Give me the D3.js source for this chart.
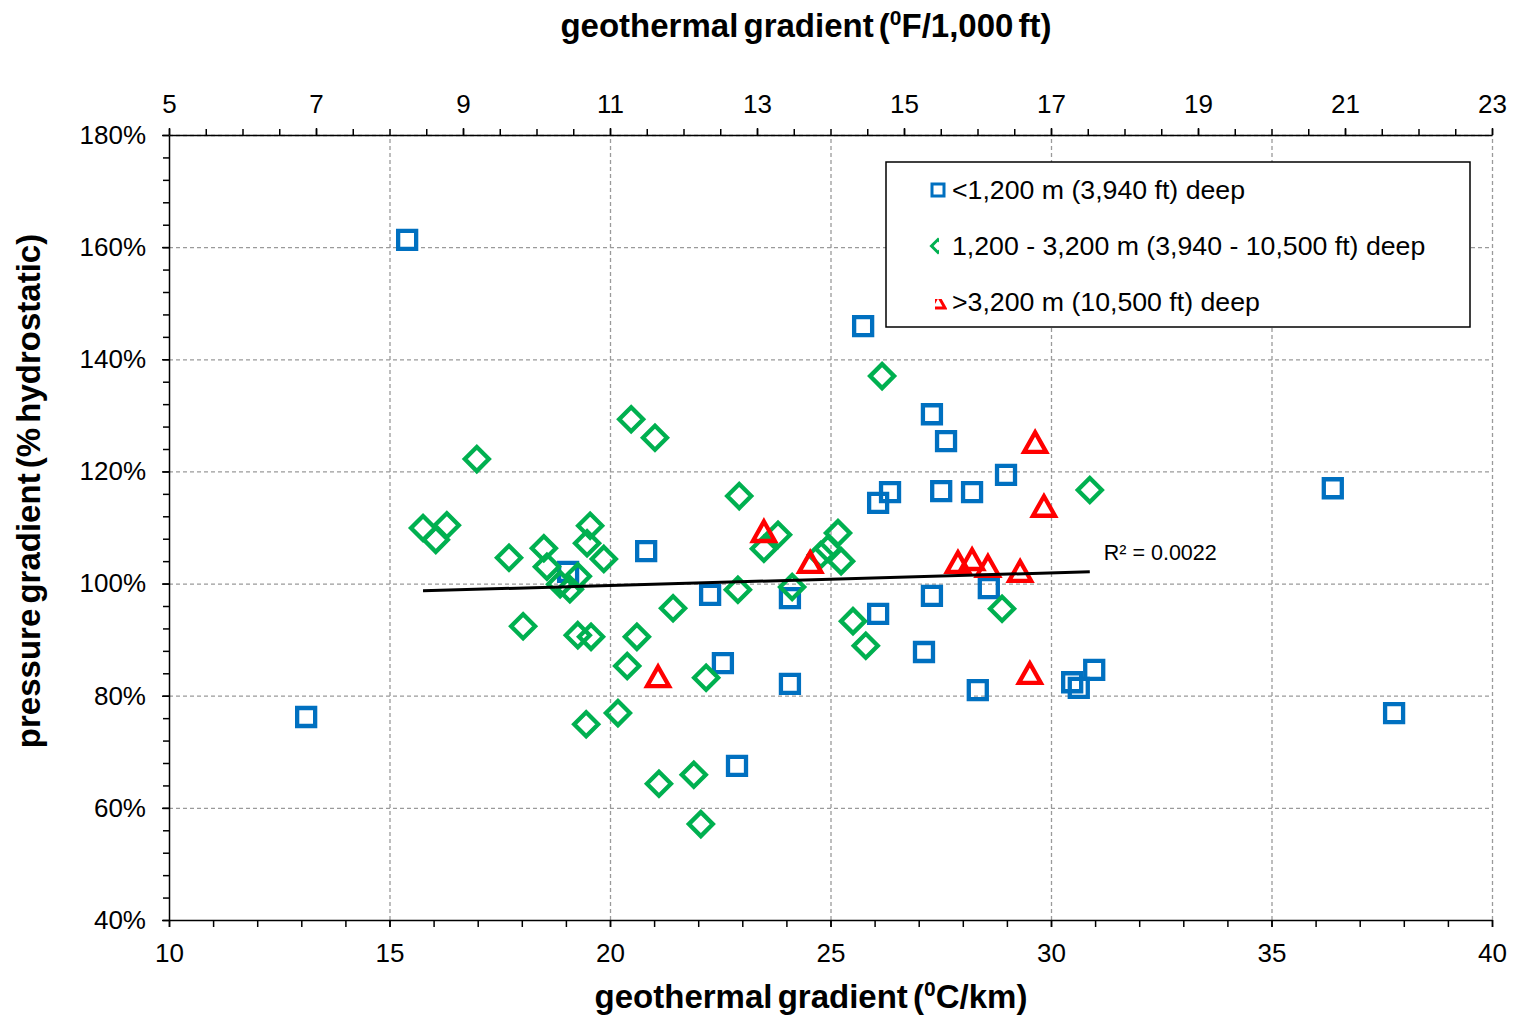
<!DOCTYPE html>
<html lang="en">
<head>
<meta charset="UTF-8">
<script src="https://d3js.org/d3.v7.min.js"></script>
<style>
  body { margin: 0; background: #fff; }
  svg { font-family: "Liberation Sans", Arial, sans-serif; }
  .grid line { stroke: #9a9a9a; stroke-width: 1.3; stroke-dasharray: 4 3; }
  .grid path { display: none; }
  .axis path, .axis line { stroke: #000; stroke-width: 1.5; }
  .axis text { font-size: 26px; fill: #000; }
</style>
</head>
<body>
<svg id="chart" width="1515" height="1017"></svg>
<script>
// <1,200 m deep  [°C/km, % hydrostatic]
const shallowX = [15.40, 13.11, 25.74, 27.30, 27.62, 28.98, 26.35, 26.08, 27.51, 28.21,
                  20.82, 19.05, 22.27, 24.08, 26.08, 27.30, 28.59, 22.56, 24.08, 27.12,
                  28.34, 22.88, 30.48, 30.63, 30.98, 36.39, 37.78];
const shallowY = [161.3, 76.2, 145.9, 130.2, 125.4, 119.4, 116.3, 114.4, 116.5, 116.3,
                  105.8, 102.1, 98.0, 97.4, 94.6, 97.8, 99.2, 85.8, 82.1, 87.8,
                  81.0, 67.5, 82.4, 81.4, 84.6, 117.0, 76.9];

// 1,200 - 3,200 m deep
const midX = [16.98, 20.48, 21.02, 15.76, 16.30, 16.05, 17.71, 18.50, 19.55, 19.48,
              19.86, 18.57, 18.87, 19.09, 19.27, 18.03, 19.27, 19.57, 21.43, 20.61,
              20.39, 22.18, 20.18, 19.46, 21.11, 21.90, 22.06, 22.93, 23.81, 23.49,
              25.17, 24.94, 24.78, 25.24, 24.13, 22.90, 25.51, 25.80, 28.89, 30.88,
              26.17];
const midY = [122.2, 129.3, 126.0, 109.9, 110.4, 107.8, 104.6, 106.3, 110.3, 107.2,
              104.4, 103.0, 99.9, 99.0, 101.3, 92.4, 90.8, 90.5, 95.6, 90.5,
              85.3, 83.2, 76.9, 74.9, 64.3, 65.9, 57.1, 115.6, 108.7, 106.2,
              109.0, 106.2, 105.1, 104.0, 99.4, 98.9, 93.3, 88.9, 95.5, 116.7,
              137.0];

// >3,200 m deep
const deepX = [21.09, 23.49, 24.54, 27.89, 28.21, 28.57, 29.30, 29.64, 29.84, 29.52];
const deepY = [83.3, 109.2, 103.7, 103.7, 104.2, 103.0, 102.1, 125.1, 113.7, 83.9];

// linear trend (as drawn), R² label
const trendX = [15.76, 30.88];
const trendY = [98.7, 102.1];
const r2Label = "R² = 0.0022";

const xTicks = [10, 15, 20, 25, 30, 35, 40];
const x2Ticks = [5, 7, 9, 11, 13, 15, 17, 19, 21, 23];
const yTicks = [40, 60, 80, 100, 120, 140, 160, 180];

const legendLabels = ["<1,200 m (3,940 ft) deep",
                      "1,200 - 3,200 m (3,940 - 10,500 ft) deep",
                      ">3,200 m (10,500 ft) deep"];
const colors = ["#0070C0", "#00B050", "#FF0000"];

const pLeft = 169, pRight = 1492, pTop = 135, pBottom = 920;

const svg = d3.select("#chart");

const x = d3.scaleLinear().domain([10, 40]).range([pLeft, pRight]);
const x2 = d3.scaleLinear().domain([5, 23]).range([pLeft, pRight]);
const y = d3.scaleLinear().domain([40, 180]).range([pBottom, pTop]);

// gridlines
svg.append("g").attr("class", "grid")
  .attr("transform", `translate(0,${pBottom})`)
  .call(d3.axisBottom(x).tickValues(xTicks.slice(1)).tickSize(-(pBottom - pTop)).tickFormat(""));
svg.append("g").attr("class", "grid")
  .attr("transform", `translate(${pLeft},0)`)
  .call(d3.axisLeft(y).tickValues(yTicks.slice(1)).tickSize(-(pRight - pLeft)).tickFormat(""));

// minor ticks
svg.append("g").attr("class", "axis")
  .attr("transform", `translate(0,${pBottom})`)
  .call(d3.axisBottom(x).tickValues(d3.range(10, 41, 1)).tickSize(7).tickFormat(""))
  .call(g => g.select(".domain").remove());
svg.append("g").attr("class", "axis")
  .attr("transform", `translate(0,${pTop})`)
  .call(d3.axisTop(x2).tickValues(d3.range(5, 23.01, 0.5)).tickSize(6).tickFormat(""))
  .call(g => g.select(".domain").remove());
svg.append("g").attr("class", "axis")
  .attr("transform", `translate(${pLeft},0)`)
  .call(d3.axisLeft(y).tickValues(d3.range(40, 181, 4)).tickSize(6).tickFormat(""))
  .call(g => g.select(".domain").remove());

// main axes
svg.append("g").attr("class", "axis")
  .attr("transform", `translate(0,${pBottom})`)
  .call(d3.axisBottom(x).tickValues(xTicks).tickSize(7).tickSizeOuter(0).tickPadding(17));
svg.append("g").attr("class", "axis")
  .attr("transform", `translate(0,${pTop})`)
  .call(d3.axisTop(x2).tickValues(x2Ticks).tickSize(7).tickSizeOuter(0).tickPadding(15));
svg.append("g").attr("class", "axis")
  .attr("transform", `translate(${pLeft},0)`)
  .call(d3.axisLeft(y).tickValues(yTicks).tickSize(7).tickSizeOuter(0).tickPadding(16)
    .tickFormat(d => d + "%"));

// markers
const shapes = {
  square: "M-9,-9H9V9H-9Z",
  diamond: "M0,-12L12,0L0,12L-12,0Z",
  triangle: "M0,-10.5L11,9H-11Z"
};

function drawSeries(xs, ys, shape, color) {
  svg.append("g").selectAll("path")
    .data(xs.map((v, i) => [v, ys[i]]))
    .join("path")
    .attr("d", shapes[shape])
    .attr("transform", d => `translate(${x(d[0])},${y(d[1])})`)
    .attr("fill", "none")
    .attr("stroke", color)
    .attr("stroke-width", 4.3);
}
drawSeries(shallowX, shallowY, "square", colors[0]);
drawSeries(midX, midY, "diamond", colors[1]);
drawSeries(deepX, deepY, "triangle", colors[2]);

// trendline
svg.append("path")
  .datum(trendX.map((v, i) => [v, trendY[i]]))
  .attr("d", d3.line().x(d => x(d[0])).y(d => y(d[1])))
  .attr("stroke", "#000").attr("stroke-width", 3).attr("fill", "none");
svg.append("text")
  .attr("x", x(30.88) + 14).attr("y", y(102.1) - 12)
  .attr("font-size", 21.5).text(r2Label);

// legend
const lg = svg.append("g");
lg.append("rect").attr("x", 886).attr("y", 162).attr("width", 584).attr("height", 165)
  .attr("fill", "#fff").attr("stroke", "#000").attr("stroke-width", 1.5);
const defs = svg.append("defs");
defs.append("clipPath").attr("id", "clipG").append("rect")
  .attr("x", -9).attr("y", -9).attr("width", 10).attr("height", 18);
defs.append("clipPath").attr("id", "clipR").append("rect")
  .attr("x", -3).attr("y", -3).attr("width", 12).attr("height", 12);
const legendShapes = ["M-6,-6H6V6H-6Z", "M0,-6.5L6.5,0L0,6.5L-6.5,0Z", "M0,-6.5L7,6H-7Z"];
legendLabels.forEach((t, i) => {
  const cy = 190 + i * 56;
  lg.append("path").attr("d", legendShapes[i])
    .attr("transform", `translate(938,${cy})`)
    .attr("fill", "none").attr("stroke", colors[i]).attr("stroke-width", 3)
    .attr("clip-path", i === 1 ? "url(#clipG)" : i === 2 ? "url(#clipR)" : null);
  lg.append("text").attr("x", 952).attr("y", cy + 9).attr("font-size", 26.7).text(t);
});

// axis titles
const title = (sel, unit) => {
  sel.append("tspan").text("geothermal gradient (");
  sel.append("tspan").attr("dy", -12).attr("font-size", 21).text("0");
  sel.append("tspan").attr("dy", 12).text(unit);
};
svg.append("text").attr("x", 806).attr("y", 37).attr("text-anchor", "middle")
  .attr("font-size", 33).attr("font-weight", "bold").attr("word-spacing", -4)
  .call(title, "F/1,000 ft)");
svg.append("text").attr("x", 811).attr("y", 1008).attr("text-anchor", "middle")
  .attr("font-size", 33).attr("font-weight", "bold").attr("word-spacing", -4)
  .call(title, "C/km)");
svg.append("text")
  .attr("transform", "translate(40,491) rotate(-90)")
  .attr("text-anchor", "middle")
  .attr("font-size", 33).attr("font-weight", "bold").attr("word-spacing", -4)
  .text("pressure gradient (% hydrostatic)");
</script>
</body>
</html>
